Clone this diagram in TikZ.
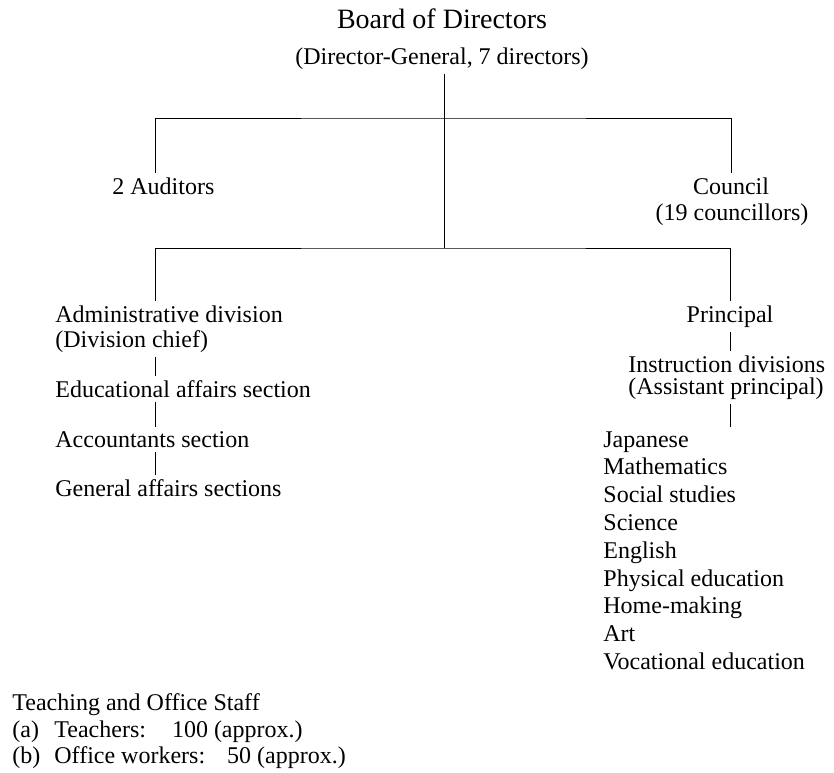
\documentclass[tikz,border=0pt]{standalone}
\usepackage{fontspec}
\setmainfont{Liberation Serif}
\usepackage{tikz}
\usetikzlibrary{positioning, calc}

\begin{document}
\begin{tikzpicture}[x=0.5pt, y=-0.5pt,
    lbl/.style={inner sep=2pt, font=\fontsize{12}{13.9}\selectfont},
    wire/.style={draw=black, line width=0.5pt}]
    \useasboundingbox (0,0) rectangle (834,772);

    % board and the two bodies beside it
    \node[lbl, anchor=base, font=\fontsize{14}{16}\selectfont] (board) at (442,28) {Board of Directors};
    \node[lbl, anchor=base] (boardsub) at (442,64) {(Director-General, 7 directors)};
    \coordinate (jtop) at (444,118);
    \coordinate (jmid) at (444,248);
    \coordinate (colL) at (155,118);

    \node[lbl, anchor=base west] (aud) at (108,194) {2 Auditors};
    \node[lbl, anchor=base] (council) at (731,194) {Council};
    \node[lbl, anchor=base] (councilsub) at (732,220) {(19 councillors)};

    \draw[wire] (boardsub.south -| jtop) -- (jtop);
    \draw[wire] (aud.north -| colL) |- (jtop) -| (council.north);
    \draw[wire] (jtop) -- (jmid);

    % administrative side
    \node[lbl, anchor=base west] (admin) at (51,322) {Administrative division};
    \node[lbl, anchor=base west] (chief) at (51,347) {(Division chief)};
    \node[lbl, anchor=base west] (edu) at (51,397) {Educational affairs section};
    \node[lbl, anchor=base west] (acc) at (51,447) {Accountants section};
    \node[lbl, anchor=base west] (gen) at (51,496) {General affairs sections};

    % instruction side
    \node[lbl, anchor=base] (principal) at (730,322) {Principal};
    \node[lbl, anchor=base west] (instr) at (624,372) {Instruction divisions};
    \node[lbl, anchor=base west] (asst) at (624,394) {(Assistant principal)};
    \foreach \subj [count=\i] in {Japanese, Mathematics, Social studies, Science, English,
        Physical education, Home-making, Art, Vocational education}
        \node[lbl, anchor=base west] (subj\i) at (599,{447+27.8*(\i-1)}) {\subj};

    \draw[wire] (admin.north -| colL) |- (jmid) -| (principal.north);
    \draw[wire] (chief.south -| colL) -- (edu.north -| colL);
    \draw[wire] (edu.south -| colL) -- (acc.north -| colL);
    \draw[wire] (acc.south -| colL) -- (gen.north -| colL);
    \draw[wire] (principal.south) -- (principal.south |- instr.north);
    \draw[wire] (asst.south -| principal) -- (subj1.north -| principal);

    % staff note
    \node[lbl, anchor=base west] (staff) at (8,710) {Teaching and Office Staff};
    \node[lbl, anchor=base west] (staffa) at (8,737) {\makebox[21pt][l]{(a)}Teachers:\hspace{13pt}100 (approx.)};
    \node[lbl, anchor=base west] (staffb) at (8,763) {\makebox[21pt][l]{(b)}Office workers:\hspace{11pt}50 (approx.)};
\end{tikzpicture}
\end{document}
